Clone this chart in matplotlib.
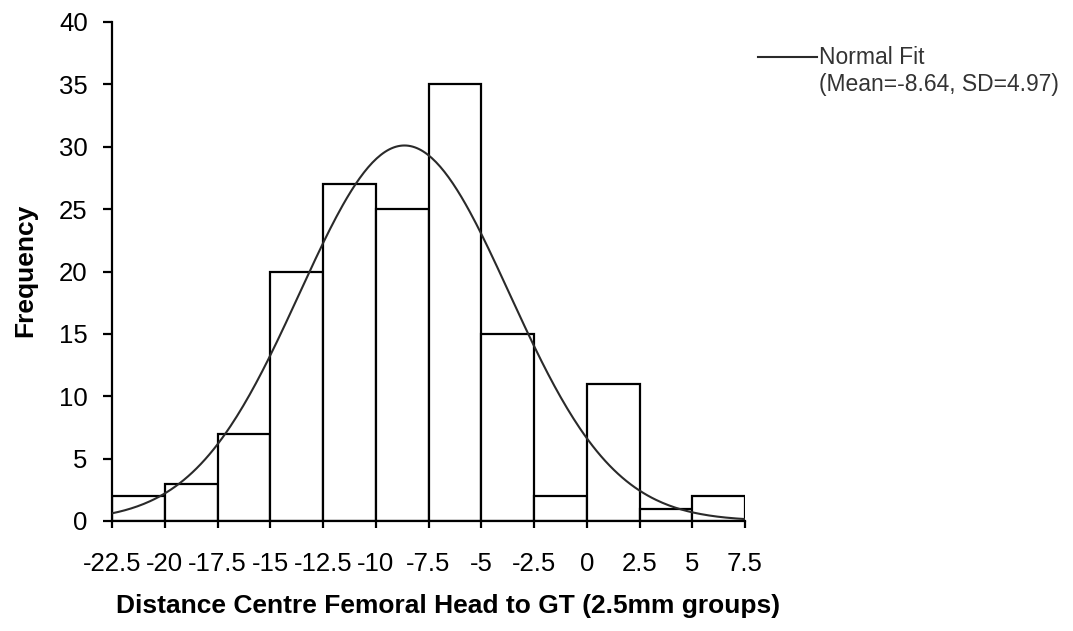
import numpy as np
import matplotlib.pyplot as plt
from matplotlib.lines import Line2D

plt.rcParams['font.family'] = ['Liberation Sans', 'DejaVu Sans']

# histogram: bin edges (2.5mm groups) and counts
bin_edges = [-22.5, -20, -17.5, -15, -12.5, -10, -7.5, -5, -2.5, 0, 2.5, 5, 7.5]
counts = [2, 3, 7, 20, 27, 25, 35, 15, 2, 11, 1, 2]
tick_labels = ["-22.5", "-20", "-17.5", "-15", "-12.5", "-10", "-7.5",
               "-5", "-2.5", "0", "2.5", "5", "7.5"]

# normal fit parameters
fit_mean = -8.64
fit_sd = 4.97
bin_width = 2.5

W, H = 1073, 631
fig = plt.figure(figsize=(W / 100, H / 100), dpi=100)
ax = fig.add_axes([112 / W, 1 - 521 / H, (745 - 112) / W, (521 - 22) / H])

lefts = np.array(bin_edges[:-1])
ax.bar(lefts, counts, width=bin_width, align="edge", color="white",
       edgecolor="black", linewidth=1.6, zorder=2)

n = sum(counts)
x = np.linspace(bin_edges[0], bin_edges[-1], 300)
y = n * bin_width / (fit_sd * np.sqrt(2 * np.pi)) * np.exp(-0.5 * ((x - fit_mean) / fit_sd) ** 2)
ax.plot(x, y, color="#2a2a2a", linewidth=1.5, zorder=3)

ax.set_xlim(bin_edges[0], bin_edges[-1])
ax.set_ylim(0, 40)
ax.set_xticks(bin_edges)
ax.set_xticklabels(tick_labels)
ax.set_yticks(range(0, 41, 5))
ax.tick_params(axis="both", labelsize=18.5, width=1.6, color="black")
ax.tick_params(axis="y", length=6.5, pad=11)
ax.tick_params(axis="x", length=5, pad=17)
for s in ["top", "right"]:
    ax.spines[s].set_visible(False)
for s in ["left", "bottom"]:
    ax.spines[s].set_linewidth(1.6)

ax.set_ylabel("Frequency", fontsize=19, fontweight="bold")
ax.yaxis.set_label_coords(-0.118, 0.503)
fig.text(448 / W, 1 - 606 / H, "Distance Centre Femoral Head to GT (2.5mm groups)",
         fontsize=19, fontweight="bold", ha="center", va="center")

# legend drawn by hand
fig.add_artist(Line2D([758 / W, 817 / W], [1 - 57 / H, 1 - 57 / H],
                      color="#2a2a2a", linewidth=1.5))
fig.text(819 / W, 1 - 57 / H, "Normal Fit", fontsize=16.5, color="#333333",
         va="center", ha="left")
fig.text(819 / W, 1 - 85 / H, "(Mean=-8.64, SD=4.97)", fontsize=16.5,
         color="#333333", va="center", ha="left")

fig.savefig("out.png", dpi=100)
